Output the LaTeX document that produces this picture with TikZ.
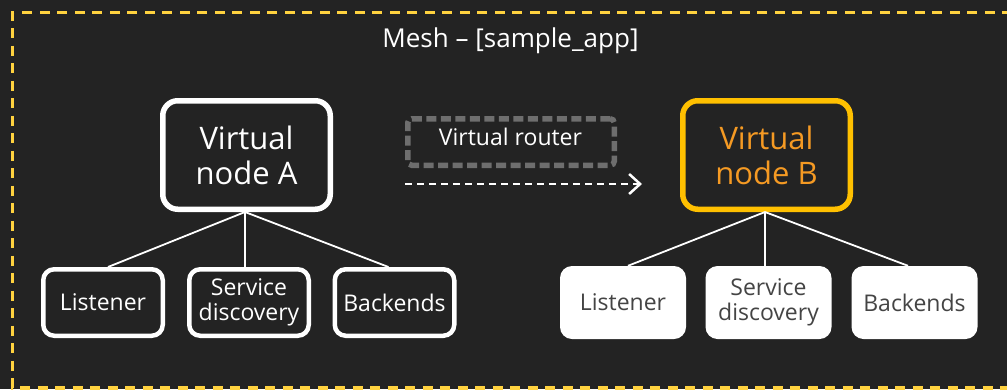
\documentclass[tikz,border=0pt]{standalone}
\usepackage{fontspec}
\setmainfont{Open Sans}
\usetikzlibrary{arrows.meta}
\definecolor{bgc}{HTML}{232323}
\definecolor{meshyel}{HTML}{FFD23F}
\definecolor{nodeorg}{HTML}{FFC000}
\definecolor{txtorg}{HTML}{F59A23}
\definecolor{routgray}{HTML}{6E6E6E}
\definecolor{darktxt}{HTML}{444444}
\tikzset{
  vnode/.style={draw, line width=5.5pt, rounded corners=15pt, minimum width=167.5pt, minimum height=108.5pt, inner sep=0pt, align=center, font=\fontsize{31}{35}\selectfont},
  subA/.style={draw=white, line width=4.5pt, rounded corners=11pt, minimum width=119.5pt, minimum height=66.5pt, inner sep=0pt, align=center, text=white, font=\fontsize{23}{24.5}\selectfont},
  subB/.style={fill=white, rounded corners=12pt, minimum width=126pt, minimum height=73pt, inner sep=0pt, align=center, text=darktxt, font=\fontsize{23}{24.5}\selectfont},
  conn/.style={draw=white, line width=1.8pt},
  routerbox/.style={draw=routgray, line width=5.5pt, dash pattern=on 10pt off 4.5pt, rounded corners=4pt, minimum width=206.5pt, minimum height=46.5pt, inner sep=0pt},
  flow/.style={draw=white, line width=2.5pt, dash pattern=on 7pt off 5pt, -{Straight Barb[length=11pt,width=20pt,line width=2.5pt]}}
}
\begin{document}
\begin{tikzpicture}[x=1pt,y=-1pt]
\fill[bgc] (0,0) rectangle (1007,389);
\useasboundingbox (0,0) rectangle (1007,389);
% mesh border
\draw[meshyel, line width=3.6pt, dash pattern=on 10pt off 7.5pt] (1012,12.5) -- (12.5,12.5) -- (12.5,388) -- (1012,388);
\node[text=white, font=\fontsize{26}{30}\selectfont] (mesh) at (510.5,41) {Mesh – [sample\_app]};
% virtual nodes
\node[vnode, draw=white, text=white] (A) at (246.5,155) {Virtual\\node A};
\node[vnode, draw=nodeorg, text=txtorg] (B) at (766.5,155) {Virtual\\node B};
% router
\node[routerbox] (router) at (511,142) {};
\node[text=white, font=\fontsize{23}{26}\selectfont] (routertxt) at (510.5,137) {Virtual router};
\coordinate (fstart) at (405,184);
\coordinate (fend) at (642,184);
\draw[flow] (fstart) -- (fend);
% sub nodes A
\node[subA] (LA) at (103,302.5) {Listener};
\node[subA] (SA) at (249,302.5) {Service\\discovery};
\node[subA] (BA) at (394.5,302.5) {Backends};
% sub nodes B
\node[subB] (LB) at (623,302.5) {Listener};
\node[subB] (SB) at (768.5,302.5) {Service\\discovery};
\node[subB] (BB) at (914.5,302.5) {Backends};
% connectors
\draw[conn] ([xshift=-1.5pt]A.south) -- ([xshift=5pt]LA.north);
\draw[conn] ([xshift=-1.5pt]A.south) -- ([xshift=-4pt]SA.north);
\draw[conn] ([xshift=-1.5pt]A.south) -- ([xshift=-6pt]BA.north);
\draw[conn] ([xshift=-1.5pt]B.south) -- ([xshift=5pt]LB.north);
\draw[conn] ([xshift=-1.5pt]B.south) -- ([xshift=-3.5pt]SB.north);
\draw[conn] ([xshift=-1.5pt]B.south) -- ([xshift=-6.5pt]BB.north);
\end{tikzpicture}
\end{document}
